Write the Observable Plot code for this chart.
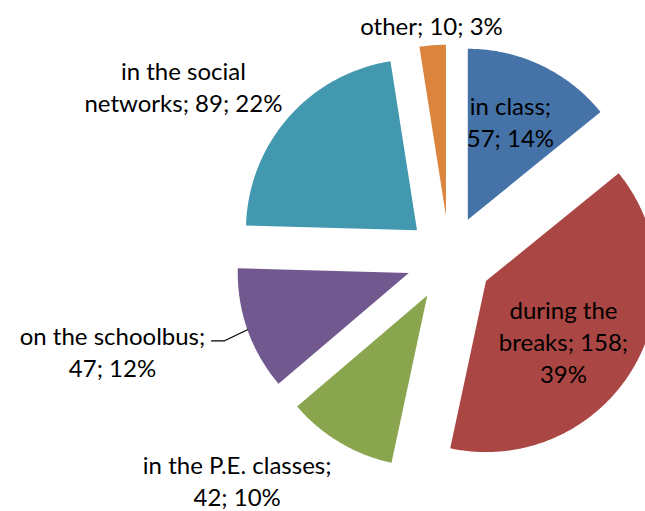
<!DOCTYPE html>
<html><head><meta charset="utf-8">
<script src="https://cdn.jsdelivr.net/npm/d3@7"></script>
<script src="https://cdn.jsdelivr.net/npm/@observablehq/plot@0.6"></script>
<style>html,body{margin:0;padding:0;overflow:hidden;background:#fff}</style>
</head><body><div id="chart"></div>
<script>
// ---- data ----
const categories = ["in class", "during the breaks", "in the P.E. classes", "on the schoolbus", "in the social networks", "other"];
const values = [57, 158, 42, 47, 89, 10];
const percents = ["14%", "39%", "10%", "12%", "22%", "3%"];
const labelLines = [
  ["in class;", "57; 14%"],
  ["during the", "breaks; 158;", "39%"],
  ["in the P.E. classes;", "42; 10%"],
  ["on the schoolbus;", "47; 12%"],
  ["in the social", "networks; 89; 22%"],
  ["other; 10; 3%"]
];
const colors = ["#4572A7", "#AA4643", "#89A54E", "#71588F", "#4198AF", "#DB843D"];

// ---- layout (style only) ----
const W = 645, H = 511;
const radiusPx = 171, cxPx = 448.8, cyPx = 258.1, explodePx = 43;
const explode = explodePx / radiusPx;
const labelAngle = [23.9, 125.7, 223.75, 254.7, 303.0, 355.65];   // degrees clockwise from 12 o'clock
const labelRadius = [0.882, 0.822, 1.794, 2.042, 1.854, 1.372];  // in pie radii from centre
const leaderIndex = 3;
const leaderSteps = [[-23, 11], [-13, 0]]; // px steps from slice edge

// ---- geometry from data ----
const arcs = d3.pie().sort(null).value(d => d)(values);
const polar = (a, r) => [r * Math.sin(a), r * Math.cos(a)];
const slicePts = [];
arcs.forEach((a, i) => {
  const mid = (a.startAngle + a.endAngle) / 2;
  const [ox, oy] = polar(mid, explode);
  slicePts.push({cat: categories[i], x: ox, y: oy});
  const n = Math.max(2, Math.ceil((a.endAngle - a.startAngle) / (Math.PI / 360)));
  for (let k = 0; k <= n; k++) {
    const t = a.startAngle + (a.endAngle - a.startAngle) * k / n;
    const [px, py] = polar(t, 1);
    slicePts.push({cat: categories[i], x: ox + px, y: oy + py});
  }
});

const labels = categories.map((c, i) => {
  const [x, y] = polar(labelAngle[i] * Math.PI / 180, labelRadius[i]);
  return {cat: c, x, y, text: labelLines[i].join("\n")};
});

const la = arcs[leaderIndex];
const lmid = (la.startAngle + la.endAngle) / 2;
let [lx, ly] = polar(lmid, explode + 1);
const leader = [{x: lx, y: ly}];
leaderSteps.forEach(([dx, dy]) => { lx += dx / radiusPx; ly -= dy / radiusPx; leader.push({x: lx, y: ly}); });

const chart = Plot.plot({
  width: W, height: H, margin: 0,
  style: {background: "#fff"},
  x: {domain: [-cxPx / radiusPx, (W - cxPx) / radiusPx], axis: null},
  y: {domain: [-(H - cyPx) / radiusPx, cyPx / radiusPx], axis: null},
  color: {domain: categories, range: colors},
  marks: [
    Plot.line(slicePts, {x: "x", y: "y", z: "cat", fill: "cat", stroke: "none", curve: "linear", clip: true}),
    Plot.line(leader, {x: "x", y: "y", stroke: "#000", strokeWidth: 1.3}),
    Plot.text(labels, {x: "x", y: "y", text: "text", fontSize: 24, fontFamily: "Lato", lineHeight: 1.333, fill: "#000", textAnchor: "middle", lineAnchor: "middle"})
  ]
});
document.getElementById("chart").appendChild(chart);
</script>
</body></html>
